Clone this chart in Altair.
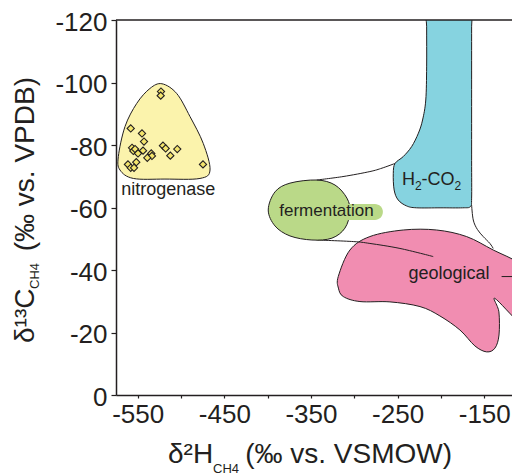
import altair as alt
import pandas as pd

# ---------------- data (delta2H, delta13C) ----------------
nitro_x = [-522.0, -535.8, -551.1, -564.6, -572.3, -570.4, -555.0, -518.5, -478.1, -466.5, -474.3, -489.6, -505.0]
nitro_y = [-99.6, -98.1, -93.3, -85.9, -76.3, -72.0, -69.3, -69.1, -69.3, -72.0, -80.5, -89.1, -96.5]

pts_x = [-523.1, -523.4, -558.0, -545.0, -542.7, -556.5, -555.0, -553.0, -549.6, -543.8, -534.3,
         -533.5, -538.9, -520.8, -517.7, -504.3, -512.3, -551.6, -561.2, -558.0, -554.2, -474.6]
pts_y = [-97.1, -95.8, -85.3, -83.7, -81.1, -79.1, -78.1, -78.7, -77.3, -78.2, -77.3,
         -76.5, -75.9, -79.8, -78.9, -78.7, -76.6, -74.5, -73.8, -72.7, -72.7, -73.8]

h2co2_x = [-216.5, -216.5, -216.5, -217.5, -221.2, -226.0, -233.8, -243.5, -253.0, -255.0, -254.0,
           -249.3, -239.6, -228.0, -200.0, -175.0, -166.0, -164.6, -164.6, -164.6, -164.6, -164.6]
h2co2_y = [-128.0, -118.0, -105.0, -94.4, -88.0, -83.8, -79.5, -76.3, -74.1, -70.9, -65.6,
           -62.4, -60.5, -59.9, -59.9, -59.9, -60.3, -63.0, -75.0, -95.0, -118.0, -128.0]

ferm_x = [-399.3, -391.5, -374.2, -343.4, -322.3, -308.5, -305.0, -310.8, -325.8, -348.9, -374.2, -391.5]
ferm_y = [-59.2, -65.0, -67.8, -68.8, -67.2, -63.0, -58.6, -53.4, -50.2, -49.6, -50.9, -54.1]

geo_x = [-318.5, -305.0, -282.0, -243.5, -205.0, -170.4, -139.7, -108.9, -85.0, -85.0, -108.9, -137.7,
         -133.1, -133.0, -137.7, -147.3, -160.8, -178.1, -201.2, -224.2, -258.9, -293.5, -312.7, -318.3]
geo_y = [-37.9, -46.4, -50.7, -52.8, -52.8, -50.7, -46.4, -42.1, -36.0, -19.0, -23.0, -30.9,
         -26.6, -19.2, -15.0, -13.8, -15.7, -20.8, -25.3, -28.3, -29.8, -29.9, -31.5, -34.2]

env_upper_x = [-253.0, -268.0, -282.0, -313.0, -343.4]
env_upper_y = [-74.1, -72.6, -71.5, -69.9, -68.8]
env_lower_x = [-343.4, -301.2, -282.0, -247.3, -208.9]
env_lower_y = [-49.6, -49.1, -48.5, -46.9, -44.3]
env_right_x = [-164.6, -162.7, -158.0, -151.2, -143.5, -139.7]
env_right_y = [-60.8, -56.0, -53.0, -50.7, -48.5, -46.9]
leader_x = [-130.0, -100.0]
leader_y = [-37.9, -37.9]

ferm_tag_x = [-340.0, -267.0]
ferm_tag_y = [-61.1, -56.0]

label_text = ["nitrogenase", "geological"]
label_x = [-514.7, -190.8]
label_y = [-65.6, -38.7]
ferm_label = "fermentation"
ferm_label_xy = [-332.1, -58.9]
h2_label_xy = [-245.0, -67.2]

x_ticks = [-550, -500, -450, -400, -350, -300, -250, -200, -150]
y_ticks = [-120, -100, -80, -60, -40, -20, 0]

# ---------------- style ----------------
FONT = "Liberation Sans"
INK = "#231f20"
C_YEL = "#fbf3ac"
C_PT = "#f4e56c"
C_BLUE = "#86d3e0"
C_GREEN = "#bad988"
C_PINK = "#f18db1"

X = alt.X("x:Q",
          scale=alt.Scale(domain=[-575, -118], nice=False, zero=False),
          axis=alt.Axis(values=x_ticks, title=None, grid=False,
                        labelExpr="datum.value % 100 == -50 ? '' + datum.value : ''",
                        labelFontSize=26, labelFont=FONT, labelColor=INK,
                        labelPadding=3, labelOverlap=False, labelFlush=False,
                        tickSize=3, tickWidth=1.2, tickColor=INK,
                        domainColor=INK, domainWidth=1.5))
Y = alt.Y("y:Q",
          scale=alt.Scale(domain=[-120, 0], reverse=True, nice=False, zero=False),
          axis=alt.Axis(values=y_ticks, title=None, grid=False,
                        labelExpr="'' + datum.value",
                        labelFontSize=26, labelFont=FONT, labelColor=INK,
                        labelPadding=4, labelOffset=2, labelOverlap=False, labelFlush=False,
                        tickSize=5, tickWidth=1.2, tickColor=INK,
                        domainColor=INK, domainWidth=1.5))


def frame(xs, ys):
    return pd.DataFrame({"x": xs, "y": ys, "i": list(range(len(xs)))})


def region(xs, ys, fill):
    return alt.Chart(frame(xs, ys)).mark_line(
        interpolate="cardinal-closed", fill=fill, stroke=INK, strokeWidth=1, clip=True
    ).encode(x=X, y=Y, order="i:Q")


def curve(xs, ys):
    return alt.Chart(frame(xs, ys)).mark_line(
        interpolate="cardinal", stroke=INK, strokeWidth=1, clip=True
    ).encode(x=X, y=Y, order="i:Q")


one = pd.DataFrame({"a": [0]})


def ptext(txt, x, y, size, **kw):
    return alt.Chart(one).mark_text(text=txt, font=FONT, fontSize=size, color=INK, **kw).encode(
        x=alt.value(x), y=alt.value(y))


nitro = region(nitro_x, nitro_y, C_YEL)
points = alt.Chart(pd.DataFrame({"x": pts_x, "y": pts_y})).mark_point(
    shape="diamond", filled=True, fill=C_PT, stroke=INK, strokeWidth=1.1, size=52, opacity=1
).encode(x=X, y=Y)
blue = region(h2co2_x, h2co2_y, C_BLUE)
pink = region(geo_x, geo_y, C_PINK)
lower = curve(env_lower_x, env_lower_y)
ferm = region(ferm_x, ferm_y, C_GREEN)
tag = alt.Chart(pd.DataFrame({"x": [ferm_tag_x[0]], "x2": [ferm_tag_x[1]],
                              "y": [ferm_tag_y[0]], "y2": [ferm_tag_y[1]]})).mark_rect(
    color=C_GREEN, cornerRadius=8).encode(x=X, x2="x2:Q", y=Y, y2="y2:Q")
upper = curve(env_upper_x, env_upper_y)
right = curve(env_right_x, env_right_y)
leader = curve(leader_x, leader_y)

labels = alt.Chart(pd.DataFrame({"x": label_x, "y": label_y, "t": label_text})).mark_text(
    font=FONT, fontSize=18, color=INK, baseline="middle").encode(x=X, y=Y, text="t:N")
ferm_lab = alt.Chart(pd.DataFrame({"x": [ferm_label_xy[0]], "y": [ferm_label_xy[1]]})).mark_text(
    text=ferm_label, font=FONT, fontSize=17, color=INK, baseline="middle").encode(x=X, y=Y)

h2df = pd.DataFrame({"x": [h2_label_xy[0]], "y": [h2_label_xy[1]]})
h2_parts = [("H", 18, 0, 0), ("2", 12, 13, 5), ("-CO", 18, 19.5, 0), ("2", 12, 52.5, 5)]
h2_layers = [
    alt.Chart(h2df).mark_text(text=t, font=FONT, fontSize=s, color=INK, align="left",
                              baseline="alphabetic", dx=dx, dy=dy).encode(x=X, y=Y)
    for t, s, dx, dy in h2_parts
]

top_rule = alt.Chart(one).mark_rule(color=INK, strokeWidth=1.5).encode(y=alt.datum(-120))

# axis titles with subscripts
xt1 = ptext("δ²H", 52, 443, 28, align="left", baseline="alphabetic")
xt2 = ptext("CH4", 97, 453, 13, align="left", baseline="alphabetic")
xt3 = ptext("(‰ vs. VSMOW)", 336, 443, 28, align="right", baseline="alphabetic")
yt1 = ptext("δ¹³C", -82, 323, 28, align="left", baseline="alphabetic", angle=270)
yt2 = ptext("CH4", -77, 269, 13, align="left", baseline="alphabetic", angle=270)
yt3 = ptext("(‰ vs. VPDB)", -82, 57, 28, align="right", baseline="alphabetic", angle=270)

chart = alt.layer(
    nitro, points, blue, pink, lower, ferm, tag, upper, right, leader,
    labels, ferm_lab, *h2_layers, top_rule, xt1, xt2, xt3, yt1, yt2, yt3
).properties(
    width=396, height=375,
    autosize=alt.AutoSizeParams(type="none"),
    padding={"left": 108, "top": 12, "right": 0, "bottom": 80},
).configure_view(stroke=None)

chart.save("out.html", embed_options={"renderer": "svg", "actions": False})
